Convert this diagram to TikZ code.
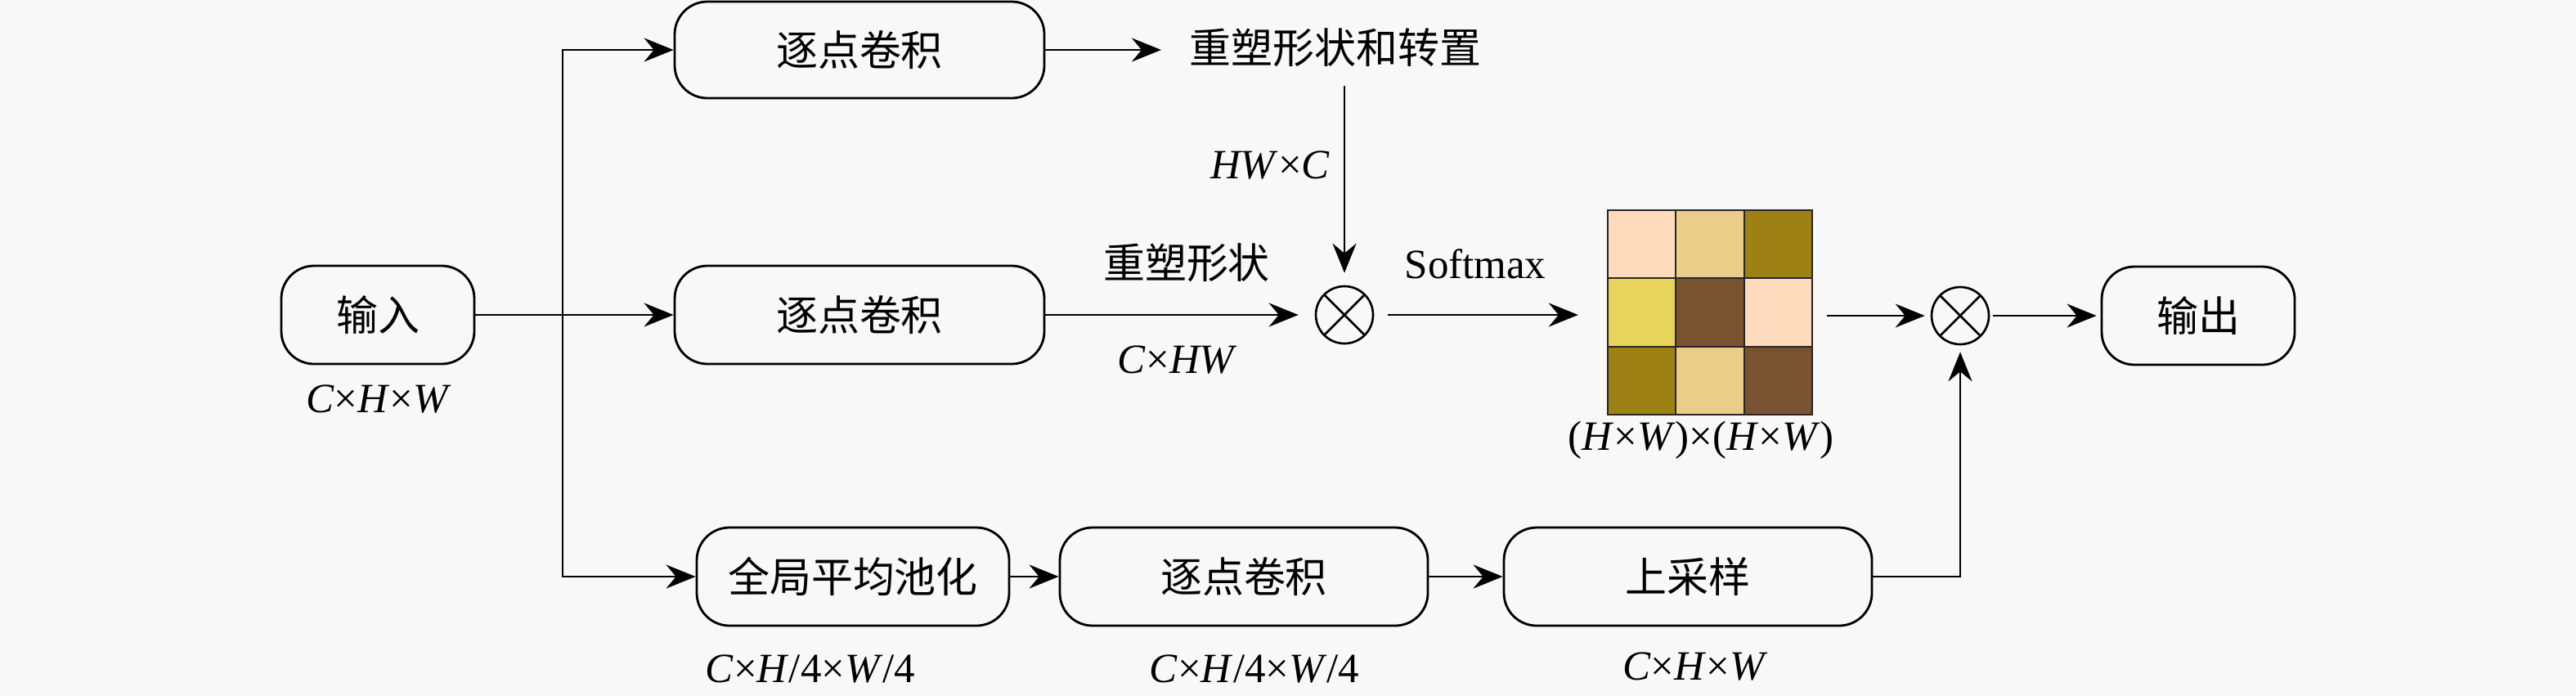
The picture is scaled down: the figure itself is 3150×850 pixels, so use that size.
\documentclass[tikz,border=0pt]{standalone}
\usepackage{fontspec}
\setmainfont{Liberation Serif}
\newfontfamily\cjk{Noto Sans CJK SC}
\usetikzlibrary{arrows.meta,calc}
\definecolor{bgc}{HTML}{F8F8F8}
\definecolor{cpeach}{RGB}{255,219,190}
\definecolor{ctan}{RGB}{235,205,138}
\definecolor{colive}{RGB}{158,129,20}
\definecolor{cyellow}{RGB}{232,212,92}
\definecolor{cbrown}{RGB}{121,82,50}
\newcommand\itx[1]{\textit{#1}}
\begin{document}
\begin{tikzpicture}[x=0.1mm,y=-0.1mm,
  font=\fontsize{14.5}{17}\selectfont,
  box/.style={draw, line width=0.8pt, rounded corners=4mm, fill=bgc, minimum height=12mm, inner sep=0pt, font=\fontsize{14.5}{17}\selectfont\cjk},
  lbl/.style={inner sep=0pt},
  zh/.style={inner sep=0pt, font=\fontsize{14.5}{17}\selectfont\cjk},
  conn/.style={line width=0.75pt, -{Stealth[length=3.6mm,width=2.9mm,inset=1.2mm]}},
  thinline/.style={line width=0.75pt},
  otimes/.style={circle, draw, line width=0.75pt, minimum size=7mm, inner sep=0pt,
    path picture={\draw[line width=0.75pt] (path picture bounding box.north west) -- (path picture bounding box.south east)
      (path picture bounding box.north east) -- (path picture bounding box.south west);}}
]
\fill[bgc] (0,0) rectangle (3150,850);
\useasboundingbox (0,0) rectangle (3150,850);

% boxes
\node[box, minimum width=23.6mm] (in) at (462,385) {输入};
\node[box, minimum width=45.2mm, minimum height=11.8mm] (pw1) at (1051,61) {逐点卷积};
\node[box, minimum width=45.2mm] (pw2) at (1051,385) {逐点卷积};
\node[box, minimum width=23.6mm] (out) at (2688,386) {输出};
\node[box, minimum width=38.2mm] (gap) at (1043,705) {全局平均池化};
\node[box, minimum width=45mm] (pw3) at (1521,705) {逐点卷积};
\node[box, minimum width=45mm] (up) at (2064,705) {上采样};

% text nodes
\node[zh] (rt) at (1633,58) {重塑形状和转置};
\node[otimes] (m1) at (1644,385) {};
\node[otimes] (m2) at (2397,386) {};

% matrix
\node[minimum width=24.9mm, minimum height=24.9mm, inner sep=0pt] (mat) at (2091,382) {};
\foreach \c [count=\k from 0] in {cpeach,ctan,colive,cyellow,cbrown,cpeach,colive,ctan,cbrown} {
  \pgfmathtruncatemacro\rr{int(\k/3)}
  \pgfmathtruncatemacro\cc{mod(\k,3)}
  \fill[\c] ($(mat.north west)+(83*\cc,83*\rr)$) rectangle ++(83,83);
}
\draw[line width=0.6pt, black!85] (mat.north west) rectangle (mat.south east);
\draw[line width=0.6pt, black!85]
  ($(mat.north west)!1/3!(mat.north east)$) -- ($(mat.south west)!1/3!(mat.south east)$)
  ($(mat.north west)!2/3!(mat.north east)$) -- ($(mat.south west)!2/3!(mat.south east)$)
  ($(mat.north west)!1/3!(mat.south west)$) -- ($(mat.north east)!1/3!(mat.south east)$)
  ($(mat.north west)!2/3!(mat.south west)$) -- ($(mat.north east)!2/3!(mat.south east)$);

% labels
\node[lbl] (lin) at (463,488) {\itx{C}×\itx{H}×\itx{W}};
\node[lbl, anchor=east] (lhw) at (1627,202) {\itx{HW}×\itx{C}};
\node[zh] (lrs) at (1451,321) {重塑形状};
\node[lbl] (lchw) at (1440,440) {\itx{C}×\itx{HW}};
\node[lbl] (lsm) at (1804,323) {Softmax};
\node[lbl] (lmat) at (2080,538) {(\itx{H}×\itx{W})×(\itx{H}×\itx{W})};
\node[lbl] (lg1) at (991,818) {\itx{C}×\itx{H}/4×\itx{W}/4};
\node[lbl] (lg2) at (1534,818) {\itx{C}×\itx{H}/4×\itx{W}/4};
\node[lbl] (lg3) at (2073,815) {\itx{C}×\itx{H}×\itx{W}};

% connectors
\coordinate (br) at (688,385);
\draw[conn] (in.east) -- (pw2.west);
\draw[conn] (br) |- (pw1.west);
\draw[conn] (br) |- (gap.west);
\draw[conn, shorten >=3.4mm] (pw1.east) -- (pw1.east -| rt.west);
\draw[conn, shorten <=2.3mm, shorten >=1.5mm] (rt.south -| m1.north) -- (m1.north);
\draw[conn, shorten >=2mm] (pw2.east) -- (m1.west);
\draw[conn, shorten <=1.7mm, shorten >=3.6mm] (m1.east) -- (mat.west |- m1.east);
\draw[conn, shorten <=1.8mm, shorten >=0.7mm] (mat.east |- m2.west) -- (m2.west);
\draw[conn, shorten <=0.4mm, shorten >=0.5mm] (m2.east) -- (out.west);
\draw[conn] (gap.east) -- (pw3.west);
\draw[conn] (pw3.east) -- (up.west);
\draw[conn, shorten >=0.8mm] (up.east) -| (m2.south);
\end{tikzpicture}
\end{document}
